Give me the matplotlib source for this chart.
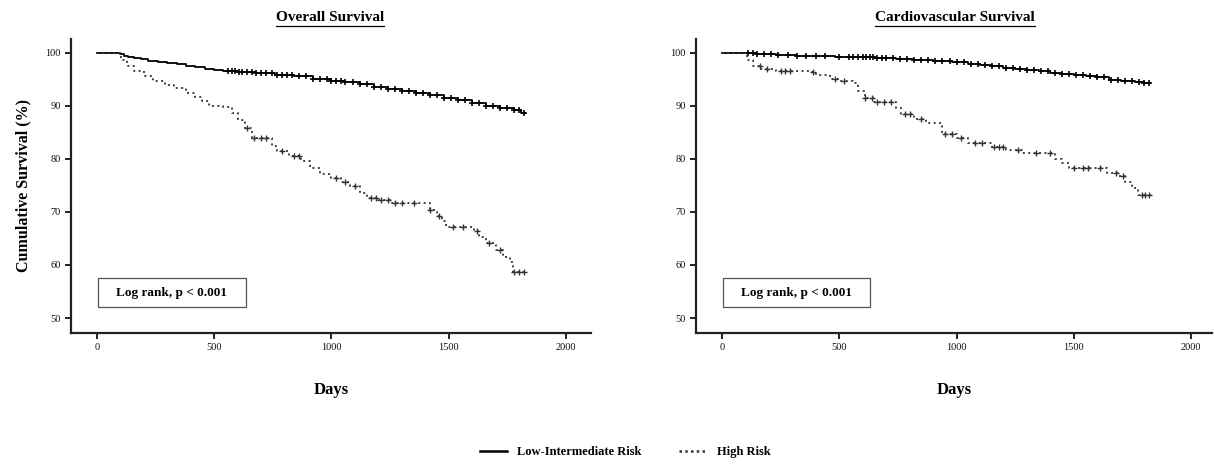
import matplotlib
matplotlib.use('Agg')
import matplotlib.pyplot as plt
import numpy as np
from matplotlib.lines import Line2D
from matplotlib.patches import Rectangle

plt.rcParams['font.family'] = ['Liberation Serif', 'DejaVu Serif']

# Overall survival, low-intermediate risk (KM steps)
os_low_t = [0, 100, 115, 135, 160, 190, 220, 260, 300, 340, 380, 420, 460, 500, 540,
            600, 680, 760, 840, 920, 1000, 1060, 1120, 1180, 1240, 1300, 1360, 1420,
            1480, 1540, 1600, 1660, 1720, 1780, 1810, 1825]
os_low_s = [100, 99.7, 99.4, 99.1, 98.9, 98.7, 98.5, 98.3, 98.0, 97.8, 97.5, 97.2, 97.0,
            96.8, 96.6, 96.4, 96.1, 95.8, 95.5, 95.1, 94.7, 94.4, 94.0, 93.6, 93.2, 92.8,
            92.4, 92.0, 91.5, 91.0, 90.5, 89.9, 89.5, 89.1, 88.6, 88.6]
os_low_cens = [560, 575, 590, 605, 620, 640, 660, 680, 700, 720, 745, 770, 790, 810,
               830, 860, 890, 920, 950, 980, 1000, 1020, 1040, 1060, 1090, 1120, 1150,
               1180, 1210, 1240, 1270, 1300, 1330, 1360, 1390, 1420, 1450, 1480, 1510,
               1540, 1570, 1600, 1630, 1660, 1690, 1720, 1750, 1780, 1800, 1820]

# Overall survival, high risk
os_high_t = [0, 105, 130, 160, 200, 240, 290, 330, 380, 420, 450, 480, 540, 575, 600,
             630, 660, 745, 770, 820, 870, 910, 950, 1000, 1040, 1080, 1120, 1150, 1200,
             1260, 1420, 1450, 1470, 1490, 1610, 1630, 1660, 1700, 1730, 1760, 1775, 1830]
os_high_s = [100, 98.6, 97.4, 96.6, 95.5, 94.6, 93.8, 93.4, 92.4, 91.6, 90.8, 90.0, 89.8,
             88.6, 87.3, 85.8, 84.0, 82.5, 81.5, 80.6, 79.5, 78.3, 77.2, 76.4, 75.6, 74.8,
             73.6, 72.6, 72.2, 71.6, 70.3, 69.2, 68.3, 67.2, 66.4, 65.3, 64.1, 62.8, 61.5,
             60.5, 58.7, 58.7]
os_high_cens = [640, 670, 700, 720, 790, 840, 860, 1020, 1060, 1100, 1170, 1190, 1210,
                1240, 1270, 1300, 1350, 1420, 1460, 1520, 1560, 1620, 1670, 1720, 1780,
                1800, 1820]

# Cardiovascular survival, low-intermediate risk
cv_low_t = [0, 100, 150, 230, 320, 400, 480, 560, 650, 740, 820, 900, 980, 1050, 1100,
            1150, 1200, 1250, 1300, 1350, 1400, 1450, 1500, 1550, 1600, 1650, 1700, 1760,
            1800, 1825]
cv_low_s = [100, 99.9, 99.7, 99.6, 99.4, 99.3, 99.2, 99.1, 99.0, 98.8, 98.6, 98.4, 98.2,
            97.9, 97.7, 97.4, 97.1, 96.9, 96.7, 96.5, 96.2, 96.0, 95.8, 95.6, 95.4, 94.9,
            94.7, 94.5, 94.2, 94.2]
cv_low_cens = [110, 130, 150, 180, 210, 240, 280, 320, 360, 400, 440, 500, 540, 560,
               580, 600, 615, 630, 645, 660, 680, 700, 730, 760, 790, 820, 850, 880,
               910, 940, 970, 1000, 1030, 1060, 1090, 1120, 1150, 1180, 1210, 1240,
               1270, 1300, 1330, 1360, 1390, 1420, 1450, 1480, 1510, 1540, 1570, 1600,
               1630, 1660, 1690, 1720, 1750, 1780, 1800, 1820]

# Cardiovascular survival, high risk
cv_high_t = [0, 105, 130, 165, 230, 370, 400, 460, 500, 560, 580, 610, 650, 740, 765,
             820, 870, 940, 1000, 1050, 1150, 1210, 1280, 1420, 1450, 1480, 1640, 1690,
             1720, 1750, 1775, 1830]
cv_high_s = [100, 98.6, 97.4, 96.9, 96.6, 96.3, 95.8, 95.1, 94.6, 94.2, 92.8, 91.5, 90.6,
             89.6, 88.5, 87.5, 86.7, 84.7, 83.9, 82.9, 82.2, 81.6, 81.0, 80.0, 79.2, 78.2,
             77.4, 76.7, 75.6, 74.5, 73.1, 73.1]
cv_high_cens = [160, 190, 250, 270, 290, 390, 480, 520, 610, 640, 660, 690, 720, 780,
                800, 850, 950, 980, 1020, 1080, 1110, 1160, 1180, 1200, 1260, 1340,
                1400, 1500, 1540, 1560, 1610, 1680, 1710, 1790, 1805, 1820]

titles = ['Overall Survival', 'Cardiovascular Survival']
series = [
    (os_low_t, os_low_s, os_low_cens, os_high_t, os_high_s, os_high_cens),
    (cv_low_t, cv_low_s, cv_low_cens, cv_high_t, cv_high_s, cv_high_cens),
]
yticks = [50, 60, 70, 80, 90, 100]
xticks = [0, 500, 1000, 1500, 2000]


def km_at(t, s, c):
    t = np.asarray(t)
    s = np.asarray(s)
    idx = np.searchsorted(t, np.asarray(c), side='right') - 1
    return s[idx]


fig = plt.figure(figsize=(12.14, 4.67), dpi=100)
ax_pos = [[0.0585, 0.287, 0.428, 0.630], [0.5735, 0.287, 0.425, 0.630]]
xlims = [(-110, 2105), (-110, 2090)]

axes = []
for i, (ttl, data) in enumerate(zip(titles, series)):
    lt, ls_, lc, ht, hs, hc = data
    ax = fig.add_axes(ax_pos[i])
    axes.append(ax)
    ax.step(lt, ls_, where='post', color='black', lw=1.3)
    ax.plot(lc, km_at(lt, ls_, lc), ls='none', marker='+', ms=4, mew=1.2, color='black')
    ax.step(ht, hs, where='post', color='#333333', lw=1.3, ls=(0, (1.1, 1.9)))
    ax.plot(hc, km_at(ht, hs, hc), ls='none', marker='+', ms=4, mew=1.0, color='#333333')

    ax.set_xlim(*xlims[i])
    ax.set_ylim(47.2, 102.6)
    ax.set_xticks(xticks)
    ax.set_yticks(yticks)
    ax.tick_params(labelsize=7.5, length=4, width=1.3, direction='out', colors='#111111')
    for sp in ['top', 'right']:
        ax.spines[sp].set_visible(False)
    for sp in ['left', 'bottom']:
        ax.spines[sp].set_linewidth(1.6)
        ax.spines[sp].set_color('#222222')
    ax.set_xlabel('Days', fontsize=12, fontweight='bold', labelpad=21)

    # log rank box
    ax.add_patch(Rectangle((0.052, 0.088), 0.284, 0.099, transform=ax.transAxes,
                           fill=False, ec='#555555', lw=0.9))
    ax.text(0.194, 0.1375, 'Log rank, p < 0.001', transform=ax.transAxes,
            ha='center', va='center', fontsize=9.5, fontweight='bold')

axes[0].set_ylabel('Cumulative Survival (%)', fontsize=11.5, fontweight='bold', labelpad=10)

# titles with underline
title_x = [330 / 1214, 955 / 1214]
title_txt = []
for tx, ttl in zip(title_x, titles):
    title_txt.append(fig.text(tx, 0.962, ttl, ha='center', va='center',
                              fontsize=11, fontweight='bold'))

# legend
handles = [Line2D([], [], color='black', lw=1.8),
           Line2D([], [], color='#333333', lw=1.8, ls=(0, (1, 1.3)))]
fig.legend(handles, ['Low-Intermediate Risk', 'High Risk'], loc='center',
           bbox_to_anchor=(0.515, 0.032), ncol=2, frameon=False, handlelength=2.2,
           columnspacing=3.0, prop={'weight': 'bold', 'size': 9})

fig.canvas.draw()
r = fig.canvas.get_renderer()
for t in title_txt:
    bb = t.get_window_extent(r).transformed(fig.transFigure.inverted())
    fig.add_artist(Line2D([bb.x0, bb.x1], [bb.y0 - 0.004, bb.y0 - 0.004],
                          transform=fig.transFigure, color='black', lw=0.9))

fig.savefig('out.png', dpi=100)
